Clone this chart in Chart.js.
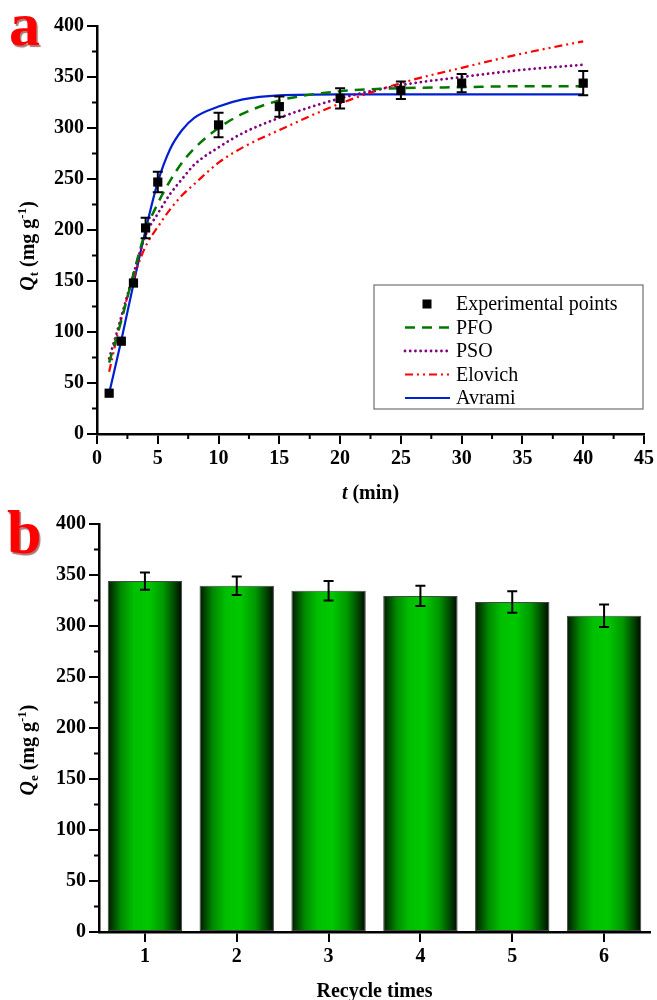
<!DOCTYPE html>
<html>
<head>
<meta charset="utf-8">
<script src="https://cdn.jsdelivr.net/npm/chart.js@4.4.1/dist/chart.umd.min.js"></script>
<style>
html, body { margin: 0; padding: 0; background: #fff; }
#wrap { position: relative; width: 657px; height: 1000px; }
canvas { position: absolute; left: 0; }
#kinetics { top: 0; }
#recycle { top: 500px; }
</style>
</head>
<body>
<div id="wrap">
<canvas id="kinetics" width="657" height="515"></canvas>
<canvas id="recycle" width="657" height="500"></canvas>
</div>
<script>
// panel a - kinetics, measured points
const timePoints = [1, 2, 3, 4, 5, 10, 15, 20, 25, 30, 40];
const qtMeasured = [40, 91, 148, 202, 247, 303, 321, 329, 337, 344, 344];
const qtError = [0, 0, 0, 10, 10, 12, 10, 10, 8.5, 9, 12];

// fitted curves
const fitTime = [1, 2, 3, 4, 5, 6, 7, 8, 10, 12, 15, 20, 25, 30, 35, 40];
const pfoFit = [70, 111, 157, 199, 226, 248, 266, 280, 300, 314, 327, 336, 339, 340, 341, 341];
const psoFit = [74, 115, 157, 195, 216, 235, 250, 264, 281, 295, 310, 329, 342, 350, 357, 362];
const elovichFit = [61, 113, 153, 184, 203, 220, 234, 245, 266, 281, 298, 324, 344, 359, 373, 385];
const avramiFit = [40, 92, 147, 200, 247, 279, 298, 310, 321, 328, 332, 333, 333, 333, 333, 333];

// panel b - recycling
const cycles = ['1', '2', '3', '4', '5', '6'];
const qeValues = [344, 339.5, 334.5, 329.5, 323.5, 310];
const qeError = [8.5, 9, 9.5, 10, 10.5, 11];

const barShare = 0.81;
const serif = '"Liberation Serif", "Times New Roman", serif';
const tickFont = { family: serif, size: 20, weight: 'bold' };

function pts(xs, ys) {
    return xs.map((x, i) => ({ x: x, y: ys[i] }));
}

function axis(extra) {
    return Object.assign({
        border: { display: true, color: '#000', width: 2.5 },
        grid: { drawOnChartArea: false, drawTicks: true, tickLength: 10, color: '#000', lineWidth: 2, tickColor: '#000', tickWidth: 2 },
    }, extra);
}

// draws text made of pieces (italic / subscript / superscript)
function drawRich(ctx, parts, cx, cy, angle) {
    const fontFor = k => (k === 'i' ? 'italic bold ' : 'bold ') + (k === 'sub' || k === 'sup' ? 13 : 20) + 'px ' + serif;
    ctx.save();
    ctx.translate(cx, cy);
    ctx.rotate(angle);
    let w = 0;
    parts.forEach(([t, k]) => { ctx.font = fontFor(k); w += ctx.measureText(t).width; });
    let x = -w / 2;
    ctx.fillStyle = '#000';
    ctx.textBaseline = 'alphabetic';
    parts.forEach(([t, k]) => {
        ctx.font = fontFor(k);
        const dy = k === 'sub' ? 4 : (k === 'sup' ? -8 : 0);
        ctx.fillText(t, x, 7 + dy);
        x += ctx.measureText(t).width;
    });
    ctx.restore();
}

const minorTicks = {
    id: 'minorTicks',
    afterDraw(chart, args, opts) {
        const ctx = chart.ctx;
        ctx.save();
        ctx.strokeStyle = '#000';
        ctx.lineWidth = 2;
        Object.keys(opts.steps || {}).forEach(id => {
            const scale = chart.scales[id];
            const step = opts.steps[id];
            const major = scale.options.ticks.stepSize;
            for (let v = scale.min + step; v < scale.max; v += step) {
                if (Math.abs(v / major - Math.round(v / major)) < 1e-6) continue;
                const p = scale.getPixelForValue(v);
                ctx.beginPath();
                if (scale.isHorizontal()) {
                    ctx.moveTo(p, scale.top);
                    ctx.lineTo(p, scale.top + 5);
                } else {
                    ctx.moveTo(scale.right, p);
                    ctx.lineTo(scale.right - 5, p);
                }
                ctx.stroke();
            }
        });
        ctx.restore();
    }
};

const errorBars = {
    id: 'errorBars',
    afterDatasetsDraw(chart, args, opts) {
        const meta = chart.getDatasetMeta(opts.dataset);
        const values = chart.data.datasets[opts.dataset].data;
        const yScale = chart.scales.y;
        const ctx = chart.ctx;
        ctx.save();
        ctx.strokeStyle = '#000';
        ctx.lineWidth = 2;
        meta.data.forEach((el, i) => {
            const err = opts.values[i];
            if (!err) return;
            const v = typeof values[i] === 'object' ? values[i].y : values[i];
            const top = yScale.getPixelForValue(v + err);
            const bot = yScale.getPixelForValue(v - err);
            const c = opts.cap / 2;
            ctx.beginPath();
            ctx.moveTo(el.x, top); ctx.lineTo(el.x, bot);
            ctx.moveTo(el.x - c, top); ctx.lineTo(el.x + c, top);
            ctx.moveTo(el.x - c, bot); ctx.lineTo(el.x + c, bot);
            ctx.stroke();
        });
        ctx.restore();
    }
};

const titles = {
    id: 'titles',
    afterDraw(chart, args, opts) {
        const ctx = chart.ctx;
        const area = chart.chartArea;
        drawRich(ctx, opts.x, (area.left + area.right) / 2, opts.xTitleY, 0);
        drawRich(ctx, opts.y, 27, (area.top + area.bottom) / 2 + opts.yShift, -Math.PI / 2);
        // panel letter
        ctx.save();
        ctx.font = 'bold 62px ' + serif;
        ctx.fillStyle = '#ff0000';
        ctx.shadowColor = 'rgba(110,0,0,0.55)';
        ctx.shadowOffsetX = 1.5;
        ctx.shadowOffsetY = 1.5;
        ctx.shadowBlur = 1;
        ctx.fillText(opts.panel, opts.panelX, opts.panelY);
        ctx.restore();
    }
};

const legendBox = {
    id: 'legendBox',
    afterDraw(chart, args, opts) {
        if (!opts.show) return;
        const ctx = chart.ctx;
        const L = opts.left, T = opts.top;
        ctx.save();
        ctx.strokeStyle = '#707070';
        ctx.lineWidth = 1.2;
        ctx.strokeRect(L, T, opts.width, opts.height);
        ctx.font = '20px ' + serif;
        ctx.textBaseline = 'middle';
        chart.data.datasets.forEach((ds, i) => {
            const y = T + opts.rowTop + i * opts.rowGap;
            if (ds.showLine) {
                ctx.save();
                ctx.strokeStyle = ds.borderColor;
                ctx.lineWidth = ds.borderWidth;
                ctx.setLineDash(ds.borderDash || []);
                ctx.lineCap = ds.borderCapStyle || 'butt';
                ctx.beginPath();
                ctx.moveTo(L + 31, y);
                ctx.lineTo(L + 76, y);
                ctx.stroke();
                ctx.restore();
            } else {
                ctx.fillStyle = '#000';
                ctx.fillRect(L + 53 - 4.5, y - 4.5, 9, 9);
            }
            ctx.fillStyle = '#000';
            ctx.fillText(ds.label, L + 82, y + 1);
        });
        ctx.restore();
    }
};

Chart.register(minorTicks, errorBars, titles, legendBox);

new Chart(document.getElementById('kinetics'), {
    type: 'scatter',
    data: {
        datasets: [
            {
                label: 'Experimental points',
                data: pts(timePoints, qtMeasured),
                pointStyle: 'rect',
                pointRadius: 6.5,
                backgroundColor: '#000',
                borderColor: '#000',
                borderWidth: 0,
                showLine: false,
            },
            {
                label: 'PFO',
                data: pts(fitTime, pfoFit),
                showLine: true,
                pointRadius: 0,
                borderColor: '#007800',
                borderWidth: 2.5,
                borderDash: [10, 7],
                cubicInterpolationMode: 'monotone',
            },
            {
                label: 'PSO',
                data: pts(fitTime, psoFit),
                showLine: true,
                pointRadius: 0,
                borderColor: '#800080',
                borderWidth: 2.8,
                borderDash: [0.01, 5.2],
                borderCapStyle: 'round',
                cubicInterpolationMode: 'monotone',
            },
            {
                label: 'Elovich',
                data: pts(fitTime, elovichFit),
                showLine: true,
                pointRadius: 0,
                borderColor: '#ff0000',
                borderWidth: 2.2,
                borderDash: [8, 4, 2, 4, 2, 4],
                cubicInterpolationMode: 'monotone',
            },
            {
                label: 'Avrami',
                data: pts(fitTime, avramiFit),
                showLine: true,
                pointRadius: 0,
                borderColor: '#0020d0',
                borderWidth: 2.2,
                cubicInterpolationMode: 'monotone',
            },
        ]
    },
    options: {
        responsive: false,
        animation: false,
        layout: { padding: { top: 26, right: 11, left: 0, bottom: 0 } },
        scales: {
            x: axis({
                type: 'linear', min: 0, max: 45,
                ticks: { stepSize: 5, autoSkip: false, maxRotation: 0, padding: 3, color: '#000', font: tickFont },
                afterFit(s) { s.height = 81; },
            }),
            y: axis({
                type: 'linear', min: 0, max: 400,
                ticks: { stepSize: 50, autoSkip: false, padding: 3, color: '#000', font: tickFont },
                afterFit(s) { s.width = 97; },
            }),
        },
        plugins: {
            legend: { display: false },
            tooltip: { enabled: false },
            minorTicks: { steps: { x: 2.5, y: 25 } },
            errorBars: { dataset: 0, values: qtError, cap: 10 },
            legendBox: { show: true, left: 374, top: 285, width: 269, height: 124, rowTop: 19, rowGap: 23.5 },
            titles: {
                x: [['t', 'i'], [' (min)', '']],
                y: [['Q', 'i'], ['t', 'sub'], [' (mg g', ''], ['-1', 'sup'], [')', '']],
                xTitleY: 492, yShift: 16,
                panel: 'a', panelX: 9, panelY: 45,
            },
        }
    }
});

new Chart(document.getElementById('recycle'), {
    type: 'bar',
    data: {
        labels: cycles,
        datasets: [
            {
                label: 'Qe',
                data: qeValues,
                barPercentage: barShare,
                categoryPercentage: 1,
                borderColor: 'rgba(50,50,50,0.9)',
                borderWidth: 1,
                borderSkipped: false,
                backgroundColor(c) {
                    const chart = c.chart;
                    const xs = chart.scales.x;
                    if (!chart.chartArea || !xs || c.type !== 'data') return '#00b400';
                    const cx = xs.getPixelForValue(c.dataIndex);
                    const half = xs.width / cycles.length * barShare / 2;
                    if (!isFinite(cx) || !isFinite(half)) return '#00b400';
                    const g = chart.ctx.createLinearGradient(cx - half, 0, cx + half, 0);
                    g.addColorStop(0, '#001800');
                    g.addColorStop(0.18, '#008a00');
                    g.addColorStop(0.35, '#00bf00');
                    g.addColorStop(0.55, '#00c800');
                    g.addColorStop(0.75, '#009800');
                    g.addColorStop(0.9, '#004400');
                    g.addColorStop(1, '#000800');
                    return g;
                },
            }
        ]
    },
    options: {
        responsive: false,
        animation: false,
        layout: { padding: { top: 24, right: 7, left: 0, bottom: 0 } },
        scales: {
            x: axis({
                type: 'category',
                offset: true,
                grid: { offset: false, drawOnChartArea: false, drawTicks: true, tickLength: 10, color: '#000', lineWidth: 2, tickColor: '#000', tickWidth: 2 },
                ticks: { autoSkip: false, maxRotation: 0, padding: 3, color: '#000', font: tickFont },
                afterFit(s) { s.height = 68; },
            }),
            y: axis({
                type: 'linear', min: 0, max: 400,
                ticks: { stepSize: 50, autoSkip: false, padding: 3, color: '#000', font: tickFont },
                afterFit(s) { s.width = 99; },
            }),
        },
        plugins: {
            legend: { display: false },
            tooltip: { enabled: false },
            minorTicks: { steps: { y: 25 } },
            errorBars: { dataset: 0, values: qeError, cap: 10 },
            legendBox: { show: false },
            titles: {
                x: [['Recycle times', '']],
                y: [['Q', 'i'], ['e', 'sub'], [' (mg g', ''], ['-1', 'sup'], [')', '']],
                xTitleY: 490, yShift: 22,
                panel: 'b', panelX: 7, panelY: 53,
            },
        }
    }
});
</script>
</body>
</html>
